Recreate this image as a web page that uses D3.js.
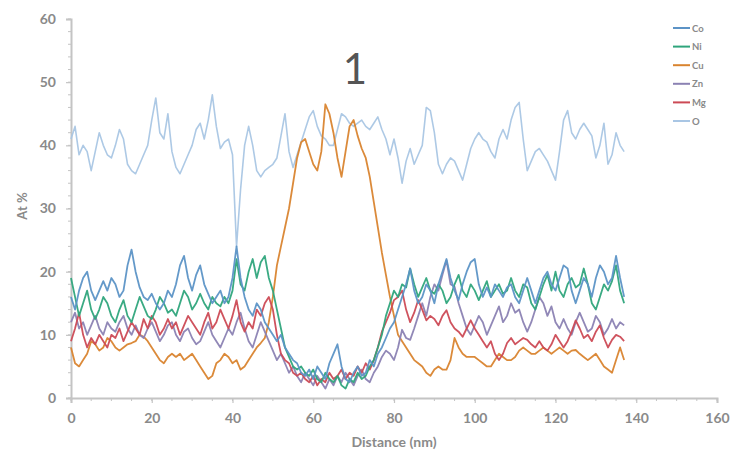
<!DOCTYPE html>
<html>
<head>
<meta charset="utf-8">
<script src="https://cdn.jsdelivr.net/npm/d3@7/dist/d3.min.js"></script>
<style>
  html, body { margin: 0; padding: 0; background: #ffffff; }
  svg { display: block; }
</style>
</head>
<body>
<svg id="chart" width="730" height="460"></svg>
<script>
// Line-scan composition profile across particle 1 (1 nm steps)
const distance = d3.range(0, 138); // nm

const elements = ["Co", "Ni", "Cu", "Zn", "Mg", "O"];

const coValues = [16,14,17,19,20,17,15.5,17,18.5,17,19,18,16,17,21,23.5,20,17.5,16,15.5,
  16.5,15,14,15,17,16,18,21,22.5,19,17,19.5,21,18,16.5,15,16,17,15,16,
  19,24,19,16,14,13,15,14,12,11,10,9,10,8,7,6,5.5,4,3.5,4.5,
  3,5,4,3,5.5,7,8.5,5,3,2.5,4,5,3.5,4,6,5,7,8,9.5,11,
  12,14,16,18,20.5,17,15,16,18,17,15,18,20,22,19,17,15.5,18,20,21.5,
  22,18,16,17.5,16,18,17,16,17.5,18,16,15,17,19,17,15,17,19,20,18,
  17,19,21,20.5,17,15,17,19,18,16,19,21,20,18,19,22.5,19,16];

const niValues = [19,16,13,15,17,14,12.5,14,16,15,13,12,14,15.5,13,12,14,16,14.5,13,
  12.5,14,16,15,13.5,14,13,15,17,16,14,15,16.5,15,14,16,15,14.5,16,15,
  17,22,18,17,20,22,19,21.5,22.5,19,17,14,11,8,6.5,5,4.5,5,4,3.5,
  4.5,3,2.5,4,3,2.5,3.5,2,1.5,3,2.5,4,3,3.5,5,6,8,10,13,15,
  17,16,18,17.5,20.5,18,16,17.5,19,17,16.5,18,17,15,16,18,19.5,17,16,18,
  17,15.5,17,18.5,16,17,18,16.5,17,19,17,16,18,17.5,15,14,16,18,19.5,17,
  20,17,16,18,19,17.5,18,20.5,18,15,14,16,18,17,18.5,21,17,15];

const cuValues = [8,5.5,5,6,7,9,8.5,7.5,8,9.5,9,8,7.5,8,8.5,8.7,9,10,9.7,9,
  8,7,6,5.5,6.5,7,6.5,7,6,6.5,7,6,5,4,3,3.5,5.5,6,7,6.5,
  5.5,6,4.5,5,6,7,8,8.7,9.5,12,16,21,24,27,30,34,38,40.5,41,39,
  37,36,39,46.5,45,42,38,35,39,43,44,41.5,39.5,38,35,31,27,23,19.5,16,
  13,10,9,8,7,6,5.5,5,4,3.5,4.5,5,4.5,4.5,6,9.5,8,7,6.5,6.5,
  6.5,6,5.5,5,5,6,7,6.5,6,6,6.5,7.5,8,7.5,7,7,7.5,8,7.5,7,
  7.5,8,7.5,7,7.5,7.6,7,6.5,6,6.5,7,6,5,4.5,4,6,8,6];

const znValues = [12,13.5,11,12,10,11.5,13,11,10,12,11,10.5,12,13,11,10,11.5,10,9.5,11,
  12,10.5,9,10,11.5,12,10,9,10.5,11,9.5,8.5,9,10.5,12,10,9,8,9.5,11,
  10,12,13.5,11,9,8,10,12,10.5,9,7.5,6,7,5.5,4,5,3.5,2.5,4,3,
  2,3.5,2.5,1.5,3,2,3.5,2.5,4,3,2,3.5,4.5,3,2.5,4,5,6.5,7.5,7,
  6,8,10.8,9.5,9.2,11,13,15,13,16,18,17,19.5,21.8,18,17.6,15,13,11,10,
  11.5,13,12,10,11.5,13,14.5,12,13,15,13.5,14,12,10.5,12,14,16,15,13,14.5,
  12,11,12.5,11,10,12,13.5,12,10.5,11,13,12,10,11,12.5,11,12,11.5];

const mgValues = [9,11,13.5,10,8,9.5,8.5,10,9,8,10,9.5,11,9,10.5,12,11,10,12.5,11,
  13,12,10,11,12.5,11,12,10,11.5,13,12,11,10,12,13.5,11,12,14,12.5,11,
  13,15.5,12,10.5,12,11,14,13,15,16,14,10,7,6,5.5,4,3.5,4,3,2.5,
  3.5,2,3,2.5,4,3,3.5,4.5,3,4,3.5,5,4,5.5,4.5,6,8,10.5,12,13.5,
  15.5,16,17,14,12,13.5,15.5,14,12.3,13,12.5,11.5,13,13.9,12,11,10.5,9.7,11,12.3,
  11,10,9,8,9,7,6,7,8.7,9.5,8.5,9,9.5,9.2,8.5,8,9,8,7.5,8.5,
  10,9,8,9,10.5,12.3,11,9.5,10,9,10.5,11.5,9.5,8,9.2,10,9.7,9];

const oValues = [41,43,38.5,40,39,36,39,42,40,38.5,38,40,42.5,41,37,36,35.5,37,38.5,40,
  44,47.5,42,41,45,39,36.5,35.5,37,38.5,40,42.5,43.5,41,44,48,43,39.5,40.5,41,
  38.5,24,33,40,43,40,36,35,36,36.5,37,38,41.5,45,39,36.5,38.5,40.5,42.5,44.5,
  45.5,43,41.5,41,40,40,42.5,45,44.5,43.5,43,43.5,44,43,42.5,43.5,44.5,42.5,41,38.5,
  41,38,34,37.5,39.5,37,38.5,40,46,45.5,42,37,35.5,37,38,37.5,36,34.5,37,39.5,
  41,42,41,40.5,39,38,41,42.5,41,44,46,46.8,41,36,37.5,39,39.5,38.5,37.5,36,
  34.5,39,44,45.5,42,41,42.5,43.5,42.5,41.5,38,40,43.5,37,38.5,42,40,39];

const seriesValues = [coValues, niValues, cuValues, znValues, mgValues, oValues];
const seriesColors = ["#5c93c6", "#2fa57c", "#d9842f", "#8b82b3", "#cc4a55", "#a9c6e4"];

const xTicks = [0, 20, 40, 60, 80, 100, 120, 140, 160];
const yTicks = [0, 10, 20, 30, 40, 50, 60];

const chartTitle = "1";
const xTitle = "Distance (nm)";
const yTitle = "At %";

const svg = d3.select("#chart");
const margin = { left: 71, right: 13, top: 19, bottom: 62 };
const W = 730, H = 460;

const x = d3.scaleLinear().domain([0, 160]).range([margin.left, W - margin.right]);
const y = d3.scaleLinear().domain([0, 60]).range([H - margin.bottom, margin.top]);

const axisColor = "#c4c4c4";
const labelColor = "#8a8a8a";
const font = "Lato, 'Open Sans', sans-serif";

// minor ticks
svg.append("g").selectAll("line").data(d3.range(0, 161, 5)).join("line")
  .attr("x1", d => x(d)).attr("x2", d => x(d))
  .attr("y1", y(0)).attr("y2", y(0) + 3)
  .attr("stroke", axisColor).attr("stroke-width", 1);
svg.append("g").selectAll("line").data(d3.range(0, 61, 2)).join("line")
  .attr("x1", x(0) - 3).attr("x2", x(0))
  .attr("y1", d => y(d)).attr("y2", d => y(d))
  .attr("stroke", axisColor).attr("stroke-width", 1);

// axes
const xAxis = svg.append("g")
  .attr("transform", `translate(0,${y(0)})`)
  .call(d3.axisBottom(x).tickValues(xTicks).tickSize(5).tickPadding(10));
const yAxis = svg.append("g")
  .attr("transform", `translate(${x(0)},0)`)
  .call(d3.axisLeft(y).tickValues(yTicks).tickSize(5).tickPadding(10));

[xAxis, yAxis].forEach(g => {
  g.select(".domain").attr("stroke", axisColor).attr("stroke-width", 2);
  g.selectAll(".tick line").attr("stroke", axisColor).attr("stroke-width", 1.2);
  g.selectAll(".tick text")
    .attr("fill", labelColor)
    .style("font-family", font)
    .style("font-size", "14px")
    .style("font-weight", "700");
});

// series lines
const line = d3.line()
  .x((d, i) => x(distance[i]))
  .y(d => y(d));

const order = [5, 2, 3, 4, 1, 0];
order.forEach(k => {
  svg.append("path")
    .datum(seriesValues[k])
    .attr("d", line)
    .attr("fill", "none")
    .attr("stroke", seriesColors[k])
    .attr("stroke-width", k === 5 ? 1.6 : 1.8)
    .attr("stroke-linejoin", "round")
    .attr("stroke-opacity", 0.95);
});

// titles
svg.append("text")
  .attr("x", 355).attr("y", 84)
  .attr("text-anchor", "middle")
  .attr("fill", "#555555")
  .style("font-family", font)
  .style("font-size", "42px")
  .text(chartTitle);

svg.append("text")
  .attr("x", (x(0) + x(160)) / 2).attr("y", 447)
  .attr("text-anchor", "middle")
  .attr("fill", labelColor)
  .style("font-family", font)
  .style("font-size", "14px")
  .style("font-weight", "700")
  .text(xTitle);

svg.append("text")
  .attr("transform", "translate(27,206) rotate(-90)")
  .attr("text-anchor", "middle")
  .attr("fill", labelColor)
  .style("font-family", font)
  .style("font-size", "13px")
  .style("font-weight", "700")
  .text(yTitle);

// legend
const legend = svg.append("g").attr("transform", "translate(673,28)");
elements.forEach((name, i) => {
  const g = legend.append("g").attr("transform", `translate(0,${i * 18.6})`);
  g.append("line")
    .attr("x1", 0).attr("x2", 17).attr("y1", 0).attr("y2", 0)
    .attr("stroke", seriesColors[i]).attr("stroke-width", 2);
  g.append("text")
    .attr("x", 19).attr("y", 3.5)
    .attr("fill", labelColor)
    .style("font-family", font)
    .style("font-size", "9.5px")
    .style("font-weight", "700")
    .text(name);
});
</script>
</body>
</html>
